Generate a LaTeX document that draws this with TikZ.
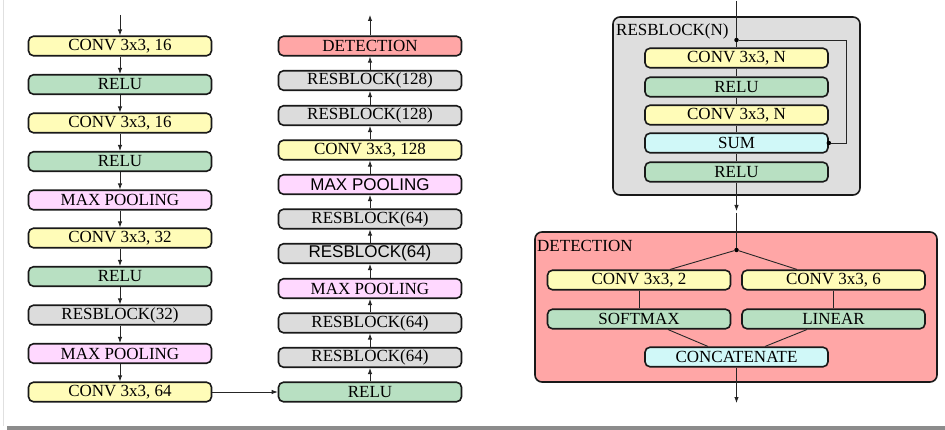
\documentclass[tikz,border=0pt]{standalone}
\usepackage{fontspec}
\setmainfont{Liberation Serif}
\newfontfamily\sansf{Liberation Sans}
\usetikzlibrary{arrows.meta}
\definecolor{cyel}{HTML}{FFFCB8}
\definecolor{cgrn}{HTML}{B8E0C2}
\definecolor{cgry}{HTML}{DCDCDC}
\definecolor{cpnk}{HTML}{FFD8FF}
\definecolor{cred}{HTML}{FFA6A6}
\definecolor{ccyn}{HTML}{D0F8F8}
\definecolor{cpanel}{HTML}{DEDEDE}
\tikzset{
  blk/.style={draw=black!90, line width=1.6pt, rounded corners=5pt, minimum width=183pt, minimum height=19.5pt, inner sep=0pt, font=\fontsize{17}{18}\selectfont},
  yel/.style={blk, fill=cyel},
  grn/.style={blk, fill=cgrn},
  gry/.style={blk, fill=cgry},
  pnk/.style={blk, fill=cpnk},
  red/.style={blk, fill=cred},
  cyn/.style={blk, fill=ccyn},
  panel/.style={draw=black!90, line width=1.6pt, rounded corners=7pt, inner sep=0pt},
  conn/.style={draw=black!85, line width=0.9pt},
  arr/.style={conn, -{Latex[length=6pt,width=4.5pt]}},
  dotn/.style={circle, fill=black, inner sep=0pt, minimum size=4.5pt},
  plabel/.style={anchor=west, inner sep=0pt, font=\fontsize{17}{18}\selectfont},
}
\begin{document}
\begin{tikzpicture}[x=1pt,y=-1pt]
\useasboundingbox (0,0) rectangle (945,430);
\fill[white] (0,0) rectangle (945,430);
\fill[black!45] (7,426) rectangle (945,430);
\draw[black!12, line width=0.8pt] (3.5,0) -- (3.5,426);

% Left column
\node[yel] (l1) at (120,46) {CONV 3x3, 16};
\node[grn] (l2) at (120,84.5) {RELU};
\node[yel] (l3) at (120,123) {CONV 3x3, 16};
\node[grn] (l4) at (120,161.5) {RELU};
\node[pnk] (l5) at (120,200) {MAX POOLING};
\node[yel] (l6) at (120,238) {CONV 3x3, 32};
\node[grn] (l7) at (120,276.5) {RELU};
\node[gry] (l8) at (120,315) {RESBLOCK(32)};
\node[pnk] (l9) at (120,353.5) {MAX POOLING};
\node[yel] (l10) at (120,392) {CONV 3x3, 64};
\coordinate (lin) at (120,15);
\draw[arr] (lin) -- (l1);
\foreach \a/\b in {l1/l2,l2/l3,l3/l4,l4/l5,l5/l6,l6/l7,l7/l8,l8/l9,l9/l10}
  \draw[arr] (\a) -- (\b);

% Right column
\node[red] (r1) at (370,46) {DETECTION};
\node[gry] (r2) at (370,80.5) {RESBLOCK(128)};
\node[gry] (r3) at (370,115.5) {RESBLOCK(128)};
\node[yel] (r4) at (370,150) {CONV 3x3, 128};
\node[pnk] (r5) at (370,184.5) {\sansf MAX POOLING};
\node[gry] (r6) at (370,219) {RESBLOCK(64)};
\node[gry] (r7) at (370,253.5) {\sansf RESBLOCK(64)};
\node[pnk] (r8) at (370,288.5) {MAX POOLING};
\node[gry] (r9) at (370,323) {RESBLOCK(64)};
\node[gry] (r10) at (370,357.5) {RESBLOCK(64)};
\node[grn] (r11) at (370,392) {RELU};
\coordinate (rout) at (370,15);
\foreach \a/\b in {r11/r10,r10/r9,r9/r8,r8/r7,r7/r6,r6/r5,r5/r4,r4/r3,r3/r2,r2/r1}
  \draw[arr] (\a) -- (\b);
\draw[arr] (r1) -- (rout);
\draw[arr] (l10) -- (r11);

% Resblock panel
\node[panel, fill=cpanel, minimum width=247pt, minimum height=178pt] (rbp) at (736.5,106) {};
\node[plabel] (rblab) at (616,31.5) {RESBLOCK(N)};
\coordinate (rbin) at (736.5,1);
\node[dotn] (rbd) at (736.5,40) {};
\node[yel] (b1) at (736.5,58) {CONV 3x3, N};
\node[grn] (b2) at (736.5,87) {RELU};
\node[yel] (b3) at (736.5,115) {CONV 3x3, N};
\node[cyn] (b4) at (736.5,143) {SUM};
\node[grn] (b5) at (736.5,172) {RELU};
\node[dotn] (sd) at (b4.east) {};
\coordinate (sk1) at (846,40);
\coordinate (sk2) at (846,143);
\coordinate (rbout) at (736.5,211);
\draw[conn] (rbin) -- (rbd) -- (b1);
\foreach \a/\b in {b1/b2,b2/b3,b3/b4,b4/b5}
  \draw[conn] (\a) -- (\b);
\draw[conn] (rbd) -- (sk1) -- (sk2) -- (sd);
\draw[arr] (b5) -- (rbout);

% Detection panel
\node[panel, fill=cred, minimum width=402pt, minimum height=150pt] (dp) at (736,307) {};
\node[plabel] (dlab) at (537,246) {DETECTION};
\coordinate (din) at (736.5,213);
\node[dotn] (dd) at (736.5,250) {};
\node[yel] (c2) at (639,280) {CONV 3x3, 2};
\node[yel] (c6) at (833.5,280) {CONV 3x3, 6};
\node[grn] (sm) at (639,319) {SOFTMAX};
\node[grn] (ln) at (833.5,319) {LINEAR};
\node[cyn] (cc) at (736.5,357) {CONCATENATE};
\coordinate (dout) at (736.5,403);
\draw[conn] (din) -- (dd);
\draw[conn] (dd) -- ([xshift=31pt]c2.north);
\draw[conn] (dd) -- ([xshift=-36.5pt]c6.north);
\draw[conn] (c2) -- (sm);
\draw[conn] (c6) -- (ln);
\draw[conn] ([xshift=29pt]sm.south) -- ([xshift=-28.5pt]cc.north);
\draw[conn] ([xshift=-26.5pt]ln.south) -- ([xshift=28.5pt]cc.north);
\draw[arr] (cc) -- (dout);
\end{tikzpicture}
\end{document}
